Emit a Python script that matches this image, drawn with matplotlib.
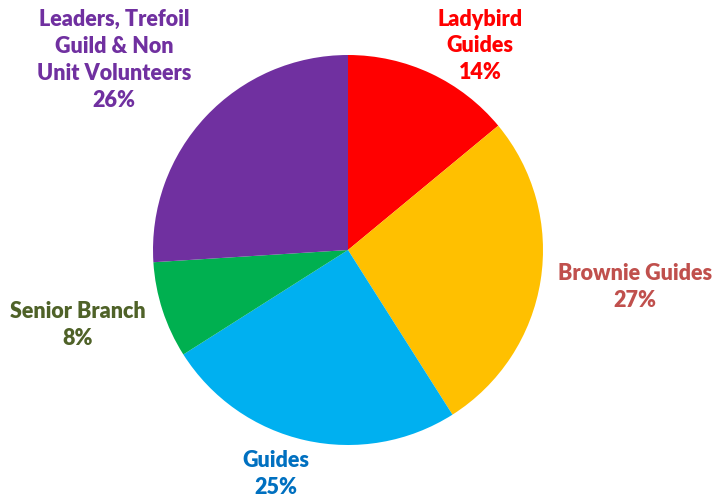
import matplotlib
matplotlib.use("Agg")
import matplotlib.pyplot as plt

categories = ["Ladybird\nGuides", "Brownie Guides", "Guides", "Senior Branch",
              "Leaders, Trefoil\nGuild & Non\nUnit Volunteers"]
values = [14, 27, 25, 8, 26]
slice_colors = ["#FF0000", "#FFC000", "#00B0F0", "#00B050", "#7030A0"]
label_colors = ["#FF0000", "#C0504D", "#0070C0", "#4F6228", "#7030A0"]
label_pos = [(480, 46), (635, 287), (276, 474), (78, 325), (114, 60)]

W, H = 714, 499
fig = plt.figure(figsize=(W / 100, H / 100), dpi=100)
ax = fig.add_axes([153 / W, (H - 445) / H, 390 / W, 390 / H])
ax.pie(values, colors=slice_colors, startangle=90, counterclock=False,
       wedgeprops=dict(linewidth=0))
ax.set_xlim(-1, 1)
ax.set_ylim(-1, 1)
ax.set_aspect("equal")
ax.axis("off")

for cat, v, c, (x, y) in zip(categories, values, label_colors, label_pos):
    fig.text(x / W, 1 - y / H, f"{cat}\n{v}%", color=c, ha="center", va="center",
             fontsize=15.5, fontweight="heavy", family=["Lato", "DejaVu Sans"],
             linespacing=1.35)

fig.savefig("out.png", dpi=100)
